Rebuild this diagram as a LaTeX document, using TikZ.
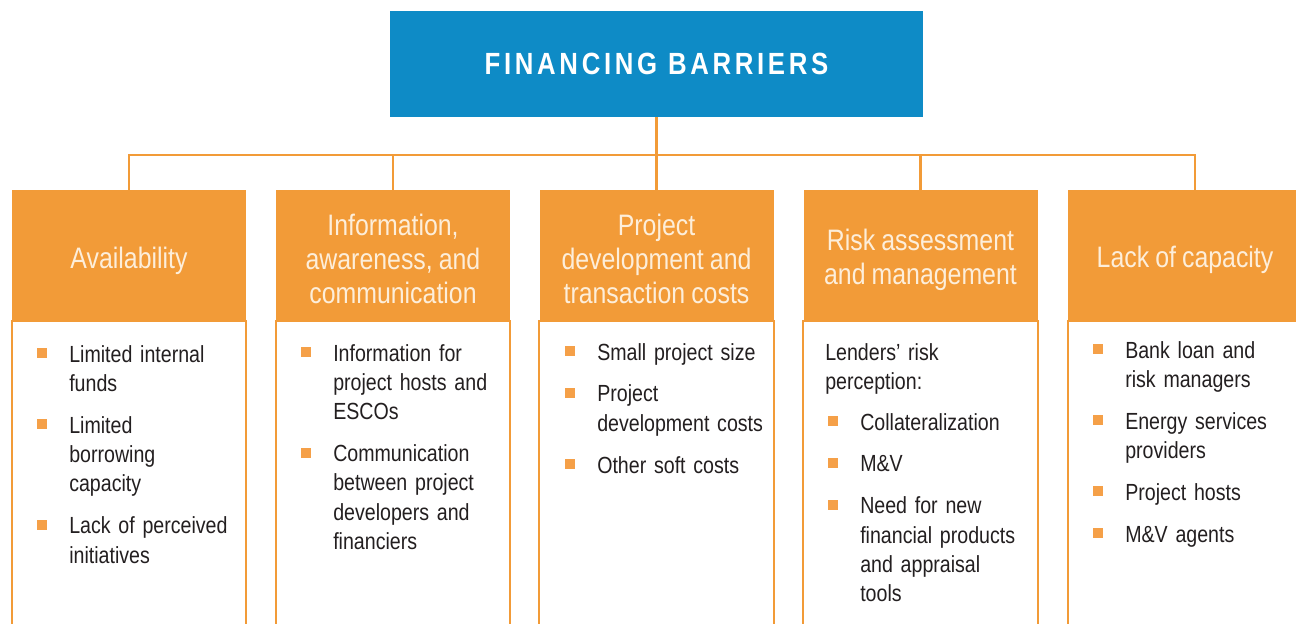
\documentclass[tikz,border=0pt]{standalone}
\usepackage{fontspec}
\setmainfont{Liberation Sans}[FakeStretch=0.84,WordSpace=0.88]
\newfontfamily\titlefont{Liberation Sans}[FakeStretch=0.84,LetterSpace=12]

\definecolor{barorange}{RGB}{242,155,56}
\definecolor{bulletorange}{RGB}{245,160,72}
\definecolor{barblue}{RGB}{14,139,198}
\definecolor{headtext}{RGB}{253,238,218}
\definecolor{bodytext}{RGB}{35,31,32}

% bulleted entry: orange square, hanging indent for wrapped lines
\newlength\bulletgap
\setlength\bulletgap{24pt}
\newcommand\bitem[1]{\noindent\hangindent=\bulletgap\hangafter=1
  \makebox[\bulletgap][l]{\raisebox{3pt}{\textcolor{bulletorange}{\rule{7.5pt}{7.5pt}}}}#1\par}
\newcommand\itemgap{\vspace{9.4pt}}

\begin{document}
\begin{tikzpicture}[x=0.75pt,y=-0.75pt,
  titlebox/.style={rectangle, fill=barblue, text=white, inner sep=0pt,
    minimum width=399.75pt, minimum height=79.5pt,
    font=\titlefont\bfseries\fontsize{23}{27}\selectfont},
  headbox/.style={rectangle, fill=barorange, inner sep=0pt,
    minimum width=175.5pt, minimum height=98.5pt},
  headtxt/.style={inner sep=0pt, align=center, text=headtext,
    font=\fontsize{22.2}{25.5}\selectfont},
  bodybox/.style={draw=barorange, line width=1.5pt, fill=white},
  bodytxt/.style={anchor=base west, inner sep=0pt, text width=160pt,
    text=bodytext, font=\fontsize{17.5}{22}\selectfont},
  conn/.style={draw=barorange, line width=1.6pt}]

\useasboundingbox (0,0) rectangle (1296,624);
\clip (0,0) rectangle (1296,624);
\fill[white] (0,0) rectangle (1296,624);

% top node
\node[titlebox] (title) at (656.5,64) {FINANCING BARRIERS};

% category headers
\node[headbox] (h1) at (129,255.5) {};
\node[headbox] (h2) at (393,255.5) {};
\node[headbox] (h3) at (656.5,255.5) {};
\node[headbox] (h4) at (920.5,255.5) {};
\node[headbox] (h5) at (1185,255.5) {};
\node[headtxt] (t1) at ([yshift=-4pt]h1.center) {Availability};
\node[headtxt] (t2) at ([yshift=-2.5pt]h2.center) {Information,\\awareness, and\\communication};
\node[headtxt] (t3) at ([yshift=-2.5pt]h3.center) {Project\\development and\\transaction costs};
\node[headtxt] (t4) at ([yshift=-3.5pt]h4.center) {Risk assessment\\and management};
\node[headtxt] (t5) at ([yshift=-3pt]h5.center) {Lack of capacity};

% white panels under the headers
\foreach \h in {h1,h2,h3,h4,h5}
  \draw[bodybox] (\h.south west) rectangle ([yshift=-250pt]\h.south east);

% connectors
\coordinate (bus) at (656.5,155);
\draw[conn] (title.south) -- (h3.north);
\draw[conn] (h1.north) -- (h1.north |- bus) -- ([xshift=7.5pt]h5.north |- bus)
  -- ([xshift=7.5pt]h5.north);
\draw[conn] (h2.north) -- (h2.north |- bus);
\draw[conn] (h4.north) -- (h4.north |- bus);

% panel contents
\node[bodytxt] (l1) at (37,362) {\raggedright
  \bitem{Limited internal\newline funds}\itemgap
  \bitem{Limited\newline borrowing\newline capacity}\itemgap
  \bitem{Lack of perceived\newline initiatives}};

\node[bodytxt] (l2) at (301,361) {\raggedright
  \bitem{Information for\newline project hosts and\newline ESCOs}\itemgap
  \bitem{Communication\newline between project\newline developers and\newline financiers}};

\node[bodytxt] (l3) at (565,360) {\raggedright
  \bitem{Small project size}\itemgap
  \bitem{Project\newline development costs}\itemgap
  \bitem{Other soft costs}};

\node[bodytxt] (l4a) at (825,360) {\raggedright Lenders’ risk\newline perception:};
\node[bodytxt] (l4) at (828,430) {\raggedright
  \bitem{Collateralization}\itemgap
  \bitem{M\&V}\itemgap
  \bitem{Need for new\newline financial products\newline and appraisal\newline tools}};

\node[bodytxt] (l5) at (1093,358) {\raggedright
  \bitem{Bank loan and\newline risk managers}\itemgap
  \bitem{Energy services\newline providers}\itemgap
  \bitem{Project hosts}\itemgap
  \bitem{M\&V agents}};
\end{tikzpicture}
\end{document}
